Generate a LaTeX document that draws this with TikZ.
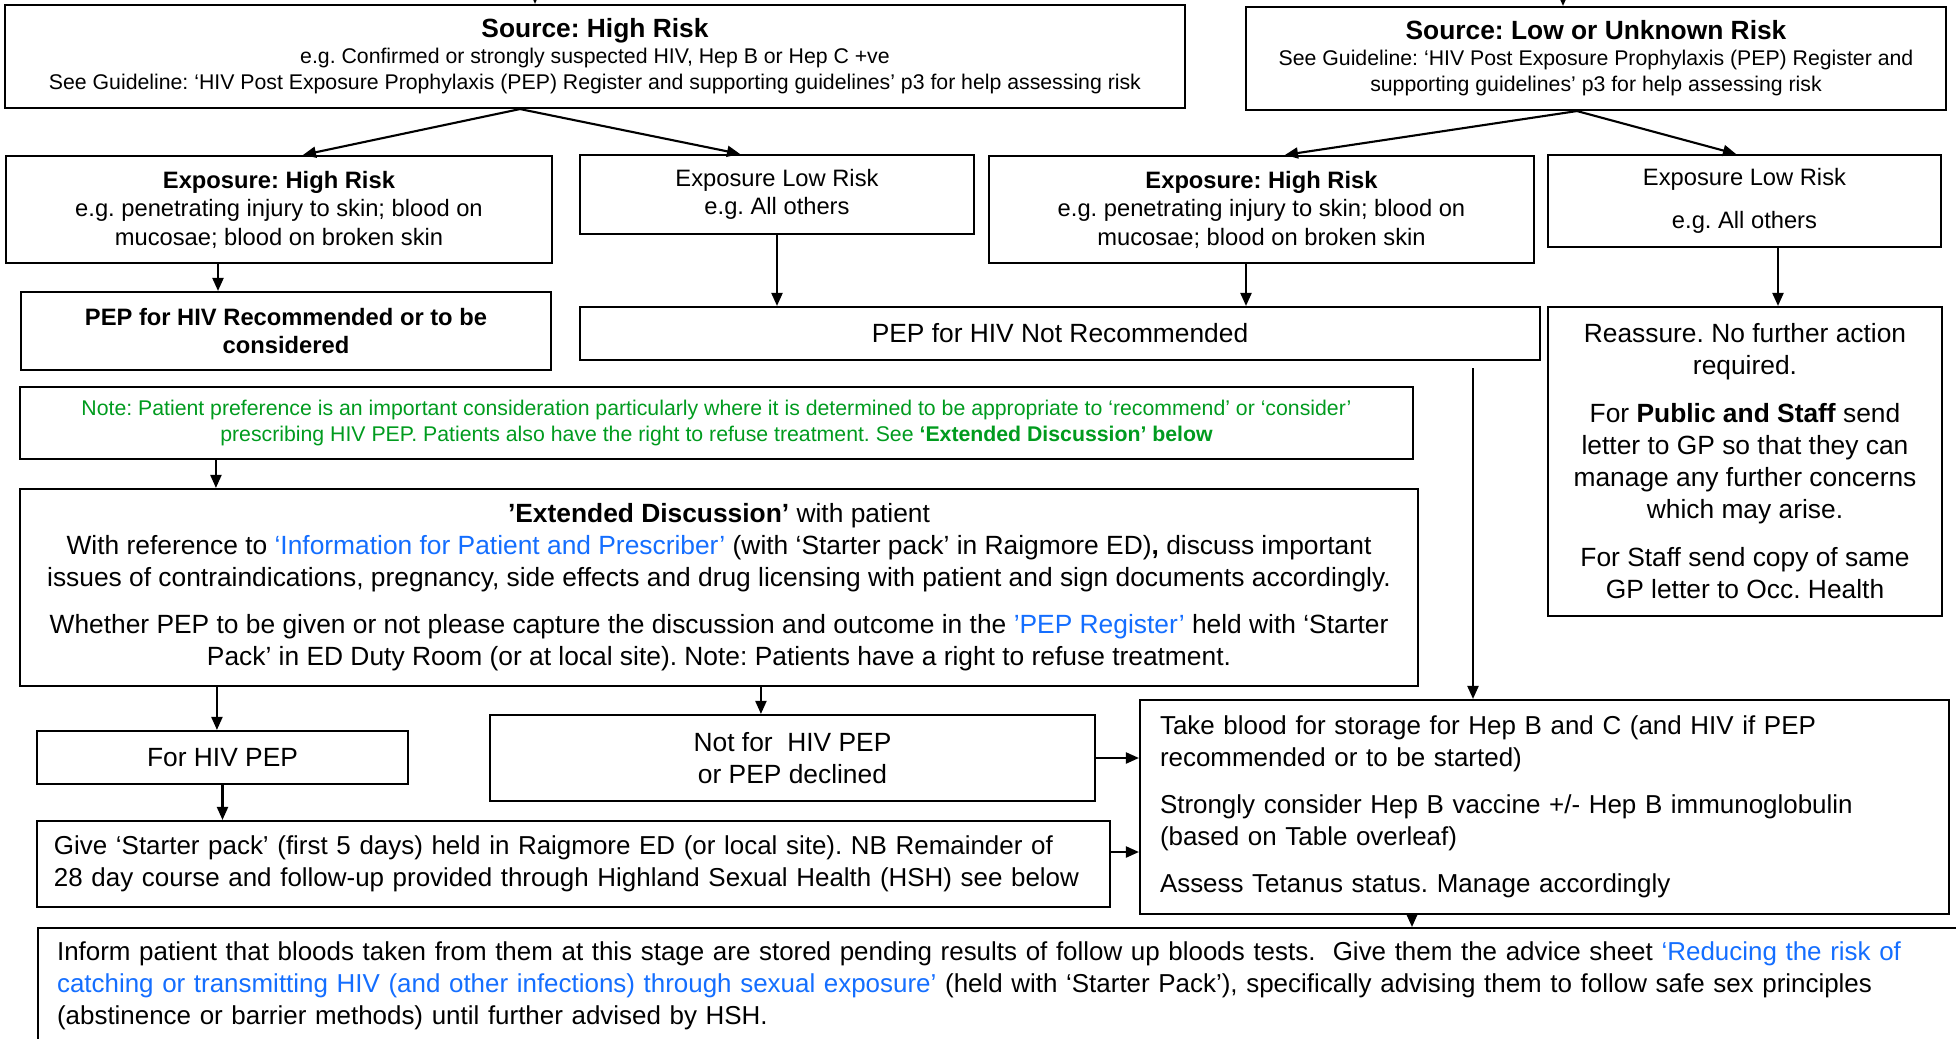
\documentclass[tikz,border=0pt]{standalone}
\usepackage{fontspec}
\setmainfont{Liberation Sans}
\usepackage{xcolor}
\usetikzlibrary{arrows.meta, positioning, calc}
\definecolor{notegreen}{RGB}{0,155,30}
\definecolor{linkblue}{RGB}{20,110,255}
\tikzset{
    >={Triangle[length=0.13cm, width=0.11cm]}, % filled arrow heads
    box/.style={draw, line width=0.6pt, rectangle, inner sep=0.1cm, align=center},
    big/.style={font=\fontsize{7.5}{9.1}\selectfont},
    body/.style={font=\fontsize{7.38}{9.1}\selectfont},
    mid/.style={font=\fontsize{6.75}{8.1}\selectfont},
    small/.style={font=\fontsize{6.05}{7.4}\selectfont},
    flow/.style={->, line width=0.6pt},
}
\frenchspacing

\begin{document}
\begin{tikzpicture}
    \useasboundingbox (0,0) rectangle (19.56,10.38);

    % Source
    \node[box, small, minimum width=11.80cm, minimum height=1.03cm] (srchigh) at (5.95,9.815)
        {{\fontsize{7.5}{9.1}\selectfont\bfseries Source: High Risk}\\
         e.g. Confirmed or strongly suspected HIV, Hep B or Hep C +ve\\
         See Guideline: ‘HIV Post Exposure Prophylaxis (PEP) Register and supporting guidelines’ p3 for help assessing risk};
    \node[box, small, minimum width=7.00cm, minimum height=1.03cm] (srclow) at (15.96,9.795)
        {{\fontsize{7.5}{9.1}\selectfont\bfseries Source: Low or Unknown Risk}\\
         See Guideline: ‘HIV Post Exposure Prophylaxis (PEP) Register and\\
         supporting guidelines’ p3 for help assessing risk};

    % Exposure
    \node[box, mid, minimum width=5.46cm, minimum height=1.07cm] (exphighL) at (2.79,8.285)
        {\textbf{Exposure: High Risk}\\ e.g. penetrating injury to skin; blood on\\ mucosae; blood on broken skin};
    \node[box, mid, minimum width=3.94cm, minimum height=0.79cm] (explowL) at (7.77,8.435)
        {Exposure Low Risk\\ e.g. All others};
    \node[box, mid, minimum width=5.45cm, minimum height=1.07cm] (exphighR) at (12.615,8.285)
        {\textbf{Exposure: High Risk}\\ e.g. penetrating injury to skin; blood on\\ mucosae; blood on broken skin};
    \node[box, mid, minimum width=3.93cm, minimum height=0.92cm] (explowR) at (17.445,8.37)
        {Exposure Low Risk\\[0.15cm] e.g. All others};

    % Decisions
    \node[box, mid, font=\fontsize{6.75}{8.1}\selectfont\bfseries, minimum width=5.30cm, minimum height=0.78cm] (peprec) at (2.86,7.07)
        {PEP for HIV Recommended or to be\\ considered};
    \node[box, big, minimum width=9.60cm, minimum height=0.53cm] (pepnot) at (10.60,7.045)
        {PEP for HIV Not Recommended};
    \node[box, big, minimum width=3.94cm, minimum height=3.09cm] (reassure) at (17.45,5.765)
        {Reassure. No further action\\ required.\\[0.16cm]
         For \textbf{Public and Staff} send\\ letter to GP so that they can\\
         manage any further concerns\\ which may arise.\\[0.16cm]
         For Staff send copy of same\\ GP letter to Occ. Health};

    \node[box, small, text=notegreen, minimum width=13.93cm, minimum height=0.72cm] (note) at (7.165,6.15)
        {Note: Patient preference is an important consideration particularly where it is determined to be appropriate to ‘recommend’ or ‘consider’\\
         prescribing HIV PEP. Patients also have the right to refuse treatment. See \textbf{‘Extended Discussion’ below}};

    \node[box, big, minimum width=13.98cm, minimum height=1.97cm] (extdisc) at (7.19,4.505)
        {\textbf{’Extended Discussion’} with patient\\
         With reference to \textcolor{linkblue}{‘Information for Patient and Prescriber’} (with ‘Starter pack’ in Raigmore ED)\textbf{,} discuss important\\
         issues of contraindications, pregnancy, side effects and drug licensing with patient and sign documents accordingly.\\[0.15cm]
         Whether PEP to be given or not please capture the discussion and outcome in the \textcolor{linkblue}{’PEP Register’} held with ‘Starter\\
         Pack’ in ED Duty Room (or at local site). Note: Patients have a right to refuse treatment.};

    % Outcome
    \node[box, big, minimum width=3.71cm, minimum height=0.53cm] (forpep) at (2.225,2.805)
        {For HIV PEP};
    \node[box, big, minimum width=6.05cm, minimum height=0.86cm] (notpep) at (7.925,2.80)
        {Not for\ \ HIV PEP\\ or PEP declined};
    \node[box, body, align=left, inner xsep=0.2cm, text width=7.69cm, minimum height=2.14cm] (blood) at (15.445,2.31)
        {Take blood for storage for Hep B and C (and HIV if PEP\\ recommended or to be started)\\[0.15cm]
         Strongly consider Hep B vaccine +/- Hep B immunoglobulin\\ (based on Table overleaf)\\[0.15cm]
         Assess Tetanus status. Manage accordingly};
    \node[box, body, align=left, inner xsep=0.17cm, text width=10.39cm, minimum height=0.86cm] (starter) at (5.735,1.74)
        {Give ‘Starter pack’ (first 5 days) held in Raigmore ED (or local site). NB Remainder of\\
         28 day course and follow-up provided through Highland Sexual Health (HSH) see below};
    \node[box, body, align=left, anchor=north west, inner xsep=0.19cm, inner ysep=0.14cm, text width=19.0cm, text depth=1.2cm] (inform) at (0.37,1.11)
        {Inform patient that bloods taken from them at this stage are stored pending results of follow up bloods tests.\ \ Give them the advice sheet \textcolor{linkblue}{‘Reducing the risk of}\\
         \textcolor{linkblue}{catching or transmitting HIV (and other infections) through sexual exposure’} (held with ‘Starter Pack’), specifically advising them to follow safe sex principles\\
         (abstinence or barrier methods) until further advised by HSH.};

    % Arrows
    \coordinate (tophigh) at (5.35,10.6);
    \coordinate (toplow) at (15.63,10.6);
    \coordinate (pnfree) at (14.73,6.70);
    \draw[flow] (tophigh) -- (tophigh |- srchigh.north);
    \draw[flow] (toplow) -- (toplow |- srclow.north);
    \draw[flow] ([xshift=-0.75cm]srchigh.south) -- ([xshift=0.24cm]exphighL.north);
    \draw[flow] ([xshift=-0.75cm]srchigh.south) -- ([xshift=-0.37cm]explowL.north);
    \draw[flow] ([xshift=-0.19cm]srclow.south) -- ([xshift=0.235cm]exphighR.north);
    \draw[flow] ([xshift=-0.19cm]srclow.south) -- ([xshift=-0.085cm]explowR.north);
    \draw[flow] ([xshift=-0.61cm]exphighL.south) -- ([xshift=-0.61cm]exphighL.south |- peprec.north);
    \draw[flow] (explowL.south) -- (explowL.south |- pepnot.north);
    \draw[flow] ([xshift=-0.155cm]exphighR.south) -- ([xshift=-0.155cm]exphighR.south |- pepnot.north);
    \draw[flow] ([xshift=0.335cm]explowR.south) -- ([xshift=0.335cm]explowR.south |- reassure.north);
    \draw[flow] (pnfree) -- (pnfree |- blood.north);
    \draw[flow] ([xshift=1.97cm]note.south west) -- ([xshift=1.97cm]note.south west |- extdisc.north);
    \draw[flow] ([xshift=1.98cm]extdisc.south west) -- ([xshift=1.98cm]extdisc.south west |- forpep.north);
    \draw[flow] ([xshift=7.42cm]extdisc.south west) -- ([xshift=7.42cm]extdisc.south west |- notpep.north);
    \draw[flow] (forpep.south) -- (forpep.south |- starter.north);
    \draw[flow] (notpep.east) -- (notpep.east -| blood.west);
    \draw[flow] ([yshift=0.12cm]starter.east) -- ([yshift=0.12cm]starter.east -| blood.west);
    \draw[flow] ([xshift=-1.325cm]blood.south) -- ([xshift=-1.325cm]blood.south |- inform.north);
\end{tikzpicture}
\end{document}
